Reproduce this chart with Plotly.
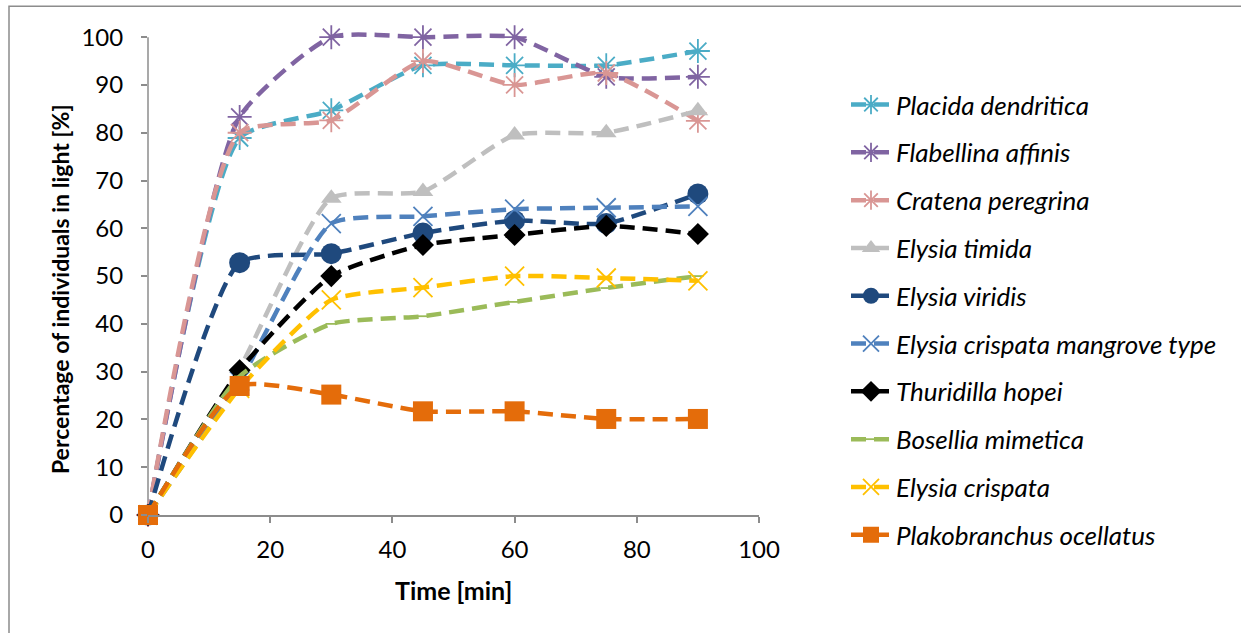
import plotly.graph_objects as go

time_min = [0, 15, 30, 45, 60, 75, 90]

species = [
    "Placida dendritica",
    "Flabellina affinis",
    "Cratena peregrina",
    "Elysia timida",
    "Elysia viridis",
    "Elysia crispata mangrove type",
    "Thuridilla hopei",
    "Bosellia mimetica",
    "Elysia crispata",
    "Plakobranchus ocellatus",
]

placida = [0, 78.9, 84.7, 94.1, 94.1, 94.1, 97.1]
flabellina = [0, 83.3, 100, 100, 100, 91.7, 91.7]
cratena = [0, 80.0, 82.6, 95.0, 90.0, 92.5, 82.5]
timida = [0, 30.7, 66.3, 67.7, 79.5, 80.0, 84.6]
viridis = [0, 52.8, 54.7, 59.0, 61.6, 61.0, 67.2]
mangrove = [0, 28.0, 61.0, 62.5, 64.0, 64.3, 64.6]
hopei = [0, 30.3, 50.0, 56.5, 58.6, 60.5, 58.8]
bosellia = [0, 29.0, 40.0, 41.6, 44.6, 47.5, 50.0]
crispata = [0, 26.5, 45.0, 47.6, 50.0, 49.6, 49.0]
plakobranchus = [0, 27.0, 25.2, 21.7, 21.7, 20.1, 20.1]

values = [placida, flabellina, cratena, timida, viridis, mangrove, hopei,
          bosellia, crispata, plakobranchus]

colors = ["#4BACC6", "#8064A2", "#D99694", "#BFBFBF", "#1F497D", "#4F81BD",
          "#000000", "#9BBB59", "#FFC000", "#E46C0A"]
symbols = ["asterisk-open", "asterisk-open", "asterisk-open", "triangle-up",
           "circle", "x-thin-open", "diamond", "line-ew-open", "x-thin-open", "square"]
sizes = [20, 20, 20, 18, 21, 19, 17, 8, 19, 20]

# plot-area geometry (pixels)
PX_X0, PX_X1 = 148, 759
PX_Y0, PX_Y100 = 515, 37
Y_TOP = 101.5
pix_per_unit = (PX_Y0 - PX_Y100) / 100
plot_h = pix_per_unit * Y_TOP
top_margin = 633 - 118 - plot_h
plot_w = PX_X1 - PX_X0

def px_to_paper_x(px):
    return (px - PX_X0) / plot_w

def px_to_paper_y(py):
    return (PX_Y0 - py) / plot_h

fig = go.Figure()
for i, (name, vals) in enumerate(zip(species, values)):
    sym = symbols[i]
    open_sym = sym.endswith("open")
    fig.add_trace(go.Scatter(
        x=time_min, y=vals, name=name, mode="lines+markers",
        legendgroup=f"g{i}",
        line=dict(color=colors[i], width=4.5, dash="15px,8px", shape="spline", smoothing=0.55),
        marker=dict(symbol=sym, size=sizes[i], color=colors[i],
                    line=dict(color=colors[i], width=1.8 if open_sym else 0)),
        cliponaxis=False,
    ))

FONT = "Lato, 'Open Sans', sans-serif"
fig.update_layout(
    width=1241, height=633,
    margin=dict(l=PX_X0, r=1241 - PX_X1, t=top_margin, b=118),
    paper_bgcolor="white", plot_bgcolor="white",
    font=dict(family=FONT, size=24, color="black"),
    showlegend=True,
    legend=dict(
        x=px_to_paper_x(898 - 52), y=px_to_paper_y(81), xanchor="left", yanchor="top",
        font=dict(size=26, family=FONT, style="italic"),
        tracegroupgap=11, itemwidth=40, bgcolor="rgba(0,0,0,0)",
        maxheight=620,
    ),
    xaxis=dict(
        range=[0, 100], dtick=20, tick0=0,
        showgrid=False, zeroline=False,
        showline=True, linecolor="#8C8C8C", linewidth=1.5,
        ticks="outside", ticklen=6, tickcolor="#8C8C8C", tickwidth=1.5,
        tickfont=dict(size=24), ticklabelstandoff=6,
    ),
    yaxis=dict(
        range=[0, Y_TOP], dtick=10, tick0=0,
        showgrid=False, zeroline=False,
        showline=False,
        ticks="outside", ticklen=6, tickcolor="#8C8C8C", tickwidth=1.5,
        tickfont=dict(size=24), ticklabelstandoff=13,
    ),
    annotations=[
        dict(text="<b>Time [min]</b>", xref="paper", yref="paper",
             x=px_to_paper_x(453), y=px_to_paper_y(590), showarrow=False,
             xanchor="center", yanchor="middle", font=dict(size=25)),
        dict(text="<b>Percentage of individuals in light [%]</b>", xref="paper", yref="paper",
             x=px_to_paper_x(60), y=px_to_paper_y(289), showarrow=False, textangle=-90,
             xanchor="center", yanchor="middle", font=dict(size=23)),
    ],
    shapes=[
        dict(type="line", xref="paper", yref="y", x0=0, x1=0, y0=0, y1=100,
             line=dict(color="#8C8C8C", width=1.5), layer="below"),
        dict(type="rect", xref="paper", yref="paper",
             x0=px_to_paper_x(9), x1=px_to_paper_x(1260),
             y0=px_to_paper_y(650), y1=px_to_paper_y(6),
             line=dict(color="#8C8C8C", width=1.5), fillcolor="rgba(0,0,0,0)",
             layer="below"),
    ],
)

fig.write_html("out.html")
